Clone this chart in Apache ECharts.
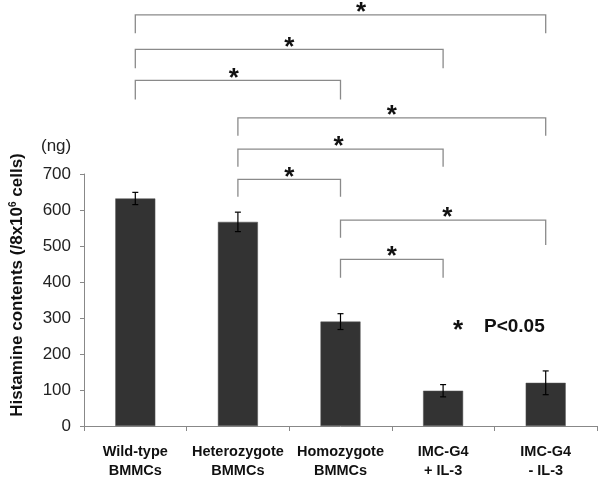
<!DOCTYPE html>
<html>
<head>
<meta charset="utf-8">
<script src="https://cdn.jsdelivr.net/npm/echarts@6/dist/echarts.min.js"></script>
<style>html,body{margin:0;padding:0;background:#fff;}#c{width:600px;height:481px;}</style>
</head>
<body>
<div id="c"></div>
<script>
const categories = ['Wild-type\nBMMCs', 'Heterozygote\nBMMCs', 'Homozygote\nBMMCs', 'IMC-G4\n+ IL-3', 'IMC-G4\n- IL-3'];
const values = [632, 567, 290, 98, 120];
const errors = [17, 27, 22, 17, 33];
const yTicks = { min: 0, max: 700, interval: 100 };

// significance brackets (category indices, levels in data units)
const bracketFrom = [0, 0, 0, 1, 1, 1, 2, 2];
const bracketTo = [4, 3, 2, 4, 3, 2, 4, 3];
const bracketLevel = [1142, 1046, 960, 856, 769, 685, 572, 463];
const bracketLegLeft = [1091, 994, 907, 806, 720, 637, 523, 412];
const bracketLegRight = [1091, 994, 907, 806, 720, 637, 503, 412];
const starFrac = [0.55, 0.5, 0.48, 0.5, 0.49, 0.5, 0.52, 0.5];
const starText = '*';
const legendText = 'P<0.05';

const chart = echarts.init(document.getElementById('c'), null, { renderer: 'canvas' });

const errData = values.map((v, i) => [i, v - errors[i], v + errors[i]]);
const bracketData = bracketFrom.map((f, i) => [f, bracketTo[i], bracketLevel[i], bracketLegLeft[i], bracketLegRight[i], starFrac[i]]);

const FONT = 'Liberation Sans, Arial, sans-serif';

chart.setOption({
  animation: false,
  backgroundColor: '#fff',
  grid: { left: 82, right: 3, top: 174, bottom: 55, containLabel: false },
  xAxis: {
    type: 'category',
    data: categories,
    axisLine: { lineStyle: { color: '#888', width: 1 } },
    axisTick: { show: true, length: 5, lineStyle: { color: '#888' } },
    axisLabel: { interval: 0, fontFamily: FONT, fontSize: 14.5, fontWeight: 'bold', color: '#111', lineHeight: 18.5, margin: 17 }
  },
  yAxis: {
    type: 'value',
    min: yTicks.min, max: yTicks.max, interval: yTicks.interval,
    splitLine: { show: false },
    axisLine: { show: true, lineStyle: { color: '#888', width: 1 } },
    axisTick: { show: true, length: 4, lineStyle: { color: '#888' } },
    axisLabel: { fontFamily: FONT, fontSize: 17, color: '#222', margin: 13 },
    name: '{a|Histamine contents (/8x10}{s|6}{a| cells)}',
    nameLocation: 'middle',
    nameRotate: 90,
    nameGap: 57,
    nameTextStyle: {
      padding: [0, 0, 0, 30],
      rich: {
        a: { fontFamily: FONT, fontSize: 17, fontWeight: 'bold', color: '#111' },
        s: { fontFamily: FONT, fontSize: 10, fontWeight: 'bold', color: '#111', verticalAlign: 'top', padding: [0, 0, 9, 0] }
      }
    }
  },
  graphic: [
    { type: 'text', left: 41, top: 138, style: { text: '(ng)', font: '17px ' + FONT, fill: '#222' } },
    { type: 'text', left: 453, top: 318, style: { text: starText, font: 'bold 26px ' + FONT, fill: '#111' } },
    { type: 'text', left: 484, top: 317, style: { text: legendText, font: 'bold 19px ' + FONT, fill: '#111' } }
  ],
  series: [
    {
      type: 'bar',
      data: values,
      barWidth: 40,
      itemStyle: { color: '#333333', borderColor: '#555', borderWidth: 0.5 }
    },
    {
      type: 'custom',
      data: errData,
      z: 5,
      renderItem: function (params, api) {
        const lo = api.coord([api.value(0), api.value(1)]);
        const hi = api.coord([api.value(0), api.value(2)]);
        const w = 3;
        const st = { stroke: '#000', lineWidth: 1.2 };
        return {
          type: 'group',
          children: [
            { type: 'line', shape: { x1: lo[0], y1: lo[1], x2: hi[0], y2: hi[1] }, style: st },
            { type: 'line', shape: { x1: lo[0] - w, y1: lo[1], x2: lo[0] + w, y2: lo[1] }, style: st },
            { type: 'line', shape: { x1: hi[0] - w, y1: hi[1], x2: hi[0] + w, y2: hi[1] }, style: st }
          ]
        };
      }
    },
    {
      type: 'custom',
      data: bracketData,
      clip: false,
      z: 6,
      renderItem: function (params, api) {
        const f = api.value(0), t = api.value(1);
        const a = api.coord([f, api.value(2)]);
        const b = api.coord([t, api.value(2)]);
        const la = api.coord([f, api.value(3)]);
        const rb = api.coord([t, api.value(4)]);
        const frac = api.value(5);
        const st = { stroke: '#8a8a8a', lineWidth: 1.3, fill: null };
        const sx = a[0] + frac * (b[0] - a[0]);
        return {
          type: 'group',
          children: [
            { type: 'polyline', shape: { points: [[la[0], la[1]], [a[0], a[1]], [b[0], b[1]], [rb[0], rb[1]]] }, style: st },
            { type: 'text', x: sx, y: a[1] - 2, style: { text: starText, font: 'bold 26px ' + FONT, fill: '#111', align: 'center', verticalAlign: 'middle' } }
          ]
        };
      }
    }
  ]
});
</script>
</body>
</html>
